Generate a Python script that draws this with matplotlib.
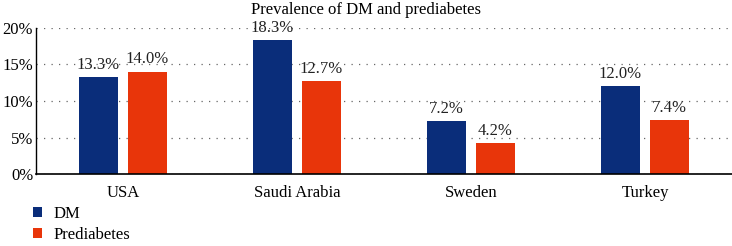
import matplotlib.pyplot as plt
import numpy as np

countries = ['USA', 'Saudi Arabia', 'Sweden', 'Turkey']
dm = [13.3, 18.3, 7.2, 12.0]
prediabetes = [14.0, 12.7, 4.2, 7.4]

plt.rcParams['font.family'] = ['Liberation Serif', 'DejaVu Serif']

fig = plt.figure(figsize=(7.32, 2.46), dpi=100)
ax = fig.add_axes([36/732, 1-174/246, 1-36/732, (174-28)/246])

x = np.arange(len(countries))
w = 0.225
off = 0.141
b1 = ax.bar(x - off, dm, w, color='#0a2d7a', label='DM')
b2 = ax.bar(x + off, prediabetes, w, color='#e8350a', label='Prediabetes')

for bars, vals in [(b1, dm), (b2, prediabetes)]:
    for r, v in zip(bars, vals):
        ax.text(r.get_x() + r.get_width()/2, v + 0.6, '%.1f%%' % v,
                ha='center', va='bottom', fontsize=12, color='#222222')

ax.set_xlim(-0.5, 3.5)
ax.set_ylim(0, 20)
ax.set_yticks([0, 5, 10, 15, 20])
ax.set_yticklabels(['0%', '5%', '10%', '15%', '20%'], fontsize=12)
ax.set_xticks(x)
ax.set_xticklabels(countries, fontsize=12)
ax.tick_params(axis='x', length=0, pad=8)
ax.tick_params(axis='y', length=0, pad=2)
ax.yaxis.grid(True, linestyle=(0, (1, 5)), color='#666666', linewidth=0.9)
ax.set_axisbelow(True)
for s in ['top', 'right']:
    ax.spines[s].set_visible(False)
ax.spines['left'].set_linewidth(1.0)
ax.spines['bottom'].set_linewidth(1.2)

fig.text(0.5, 1 - 10/246, 'Prevalence of DM and prediabetes', ha='center', va='center', fontsize=12)
fig.legend(loc='lower left', bbox_to_anchor=(0.034, -0.022), frameon=False, fontsize=12,
           borderpad=0, handlelength=0.55, handleheight=0.55, handletextpad=0.65,
           labelspacing=0.3)

fig.savefig('out.png', dpi=100)
